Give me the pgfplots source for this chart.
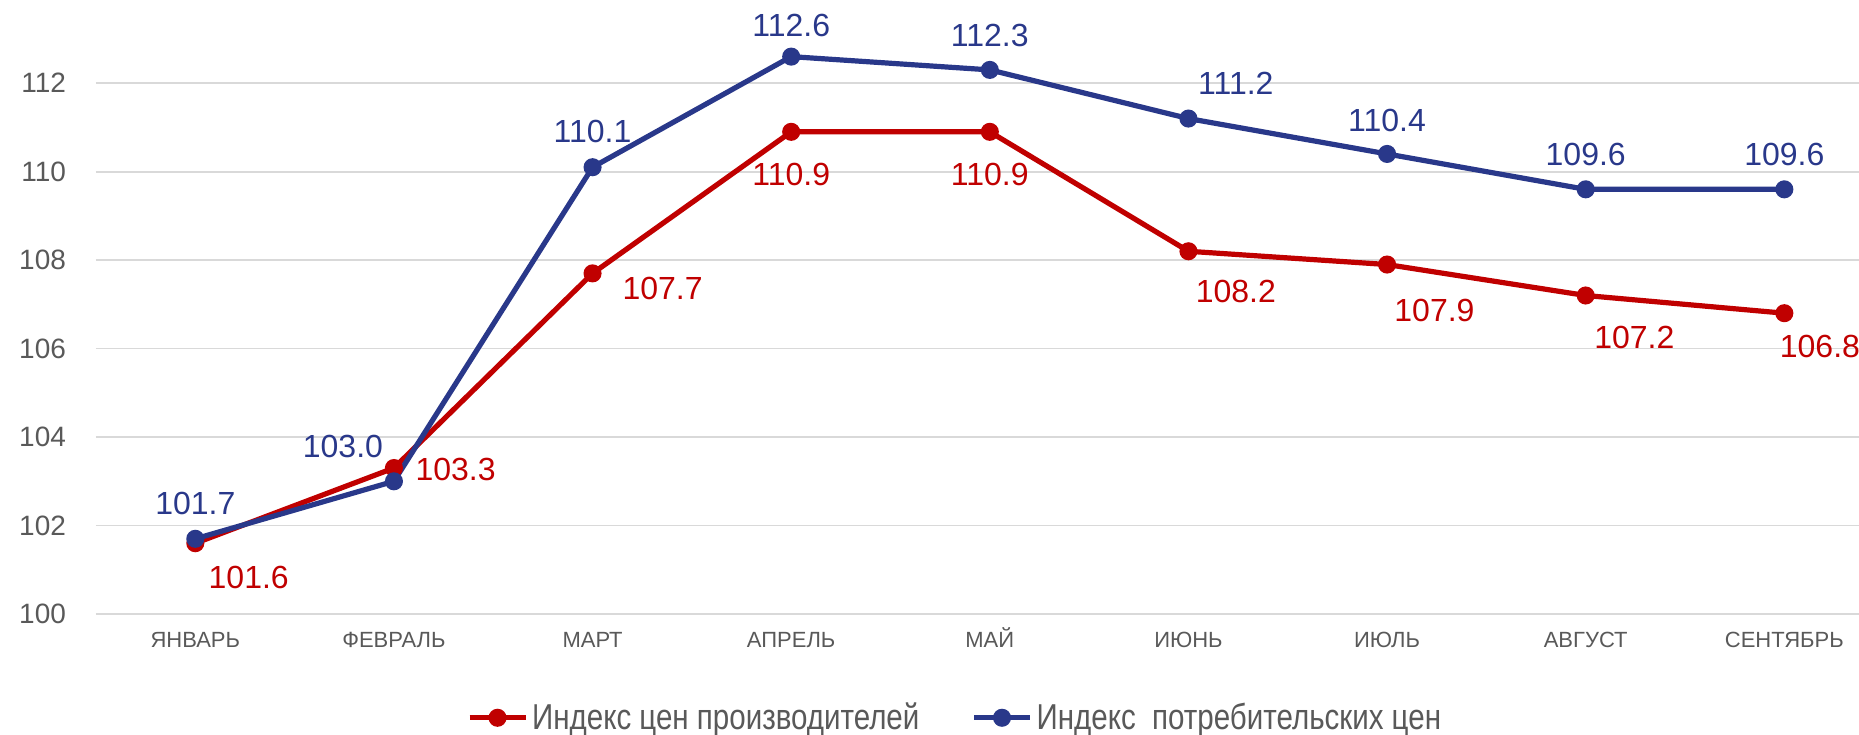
\documentclass[border=0pt]{standalone}
\usepackage{pgfplots}
\pgfplotsset{compat=1.18}
\usepackage{pgfplotstable}
\usepackage{fontspec}
\setmainfont{Liberation Sans}
\newfontfamily\narrowfont[FakeStretch=0.82]{Liberation Sans}
\definecolor{ppired}{RGB}{192,0,0}
\definecolor{cpiblue}{RGB}{41,56,138}
\definecolor{gridgray}{RGB}{217,217,217}
\definecolor{ticktext}{RGB}{89,89,89}

\pgfplotstableread{
x y dx dy lab
0 101.6 26.7 -17.2 101.6
1 103.3 30.8 -0.6 103.3
2 107.7 35.0 -7.7 107.7
3 110.9 0 -21.3 110.9
4 110.9 0 -21.3 110.9
5 108.2 23.7 -20.2 108.2
6 107.9 23.7 -23.1 107.9
7 107.2 24.3 -20.8 107.2
8 106.8 17.8 -16.6 106.8
}\ppi

\pgfplotstableread{
x y dx dy lab
0 101.7 0 17.8 101.7
1 103.0 -25.5 17.2 103.0
2 110.1 0 17.8 110.1
3 112.6 0 15.4 112.6
4 112.3 0 17.2 112.3
5 111.2 23.7 17.8 111.2
6 110.4 0 16.6 110.4
7 109.6 0 17.2 109.6
8 109.6 0 17.2 109.6
}\cpi

\begin{document}
\begin{tikzpicture}
\begin{axis}[
  at={(0,0)}, anchor=south west,
  scale only axis, width=881.5pt, height=307pt,
  xmin=-0.5, xmax=8.376, ymin=100, ymax=113.88,
  ytick={100,102,104,106,108,110,112},
  xtick={0,1,2,3,4,5,6,7,8},
  xticklabels={ЯНВАРЬ,ФЕВРАЛЬ,МАРТ,АПРЕЛЬ,МАЙ,ИЮНЬ,ИЮЛЬ,АВГУСТ,СЕНТЯБРЬ},
  ymajorgrids,
  major grid style={gridgray, line width=0.9pt},
  axis line style={draw=none},
  major tick length=0pt,
  clip=false,
  /pgf/number format/assume math mode=true,
  yticklabel style={font=\fontsize{14}{16}\selectfont, text=ticktext, xshift=-11.5pt},
  xticklabel style={font=\fontsize{11}{13}\selectfont, text=ticktext, text height=8pt, text depth=0pt, yshift=-5pt},
  legend style={at={(0.4878,-0.169)}, anchor=center, draw=none, fill=none,
    font=\narrowfont\fontsize{18}{20}\selectfont, text=ticktext, inner sep=0pt,
    /tikz/every even column/.append style={column sep=24pt}},
  legend columns=2,
  legend image code/.code={\draw[mark repeat=2,mark phase=2,#1] plot coordinates {(0pt,0pt) (14pt,0pt) (28pt,0pt)};},
]
\addplot[ppired, line width=2.6pt, mark=*, mark size=3.2pt, mark options={solid},
  nodes near coords, point meta=explicit symbolic,
  visualization depends on={\thisrow{dx}\as\dx},
  visualization depends on={\thisrow{dy}\as\dy},
  every node near coord/.append style={anchor=center, xshift=\dx, yshift=\dy,
    font=\fontsize{16}{18}\selectfont, text=ppired}]
  table[x=x, y=y, meta=lab]{\ppi};
\addlegendentry{Индекс цен производителей}
\addplot[cpiblue, line width=2.6pt, mark=*, mark size=3.2pt, mark options={solid},
  nodes near coords, point meta=explicit symbolic,
  visualization depends on={\thisrow{dx}\as\dx},
  visualization depends on={\thisrow{dy}\as\dy},
  every node near coord/.append style={anchor=center, xshift=\dx, yshift=\dy,
    font=\fontsize{16}{18}\selectfont, text=cpiblue}]
  table[x=x, y=y, meta=lab]{\cpi};
\addlegendentry{Индекс~ потребительских цен}
\end{axis}
\pgfresetboundingbox
\path (-48pt,-60pt) rectangle (881.5pt,307pt);
\end{tikzpicture}
\end{document}
